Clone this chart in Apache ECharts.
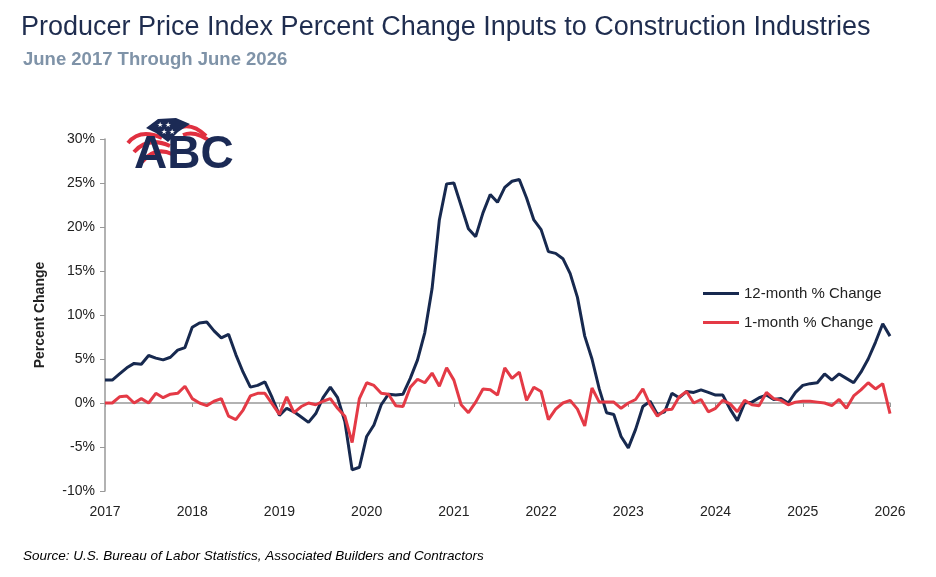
<!DOCTYPE html>
<html><head><meta charset="utf-8">
<script src="https://cdn.jsdelivr.net/npm/echarts@6/dist/echarts.min.js"></script>
<style>html,body{margin:0;padding:0;background:#fff}#c{width:936px;height:577px}</style>
</head><body><div id="c"></div>
<script>
const yearLabels = ['2017','2018','2019','2020','2021','2022','2023','2024','2025','2026'];
const twelveMonth = [2.6,2.6,3.3,4.0,4.5,4.4,5.4,5.1,4.9,5.2,6.0,6.3,
 8.6,9.1,9.2,8.2,7.4,7.8,5.5,3.5,1.8,2.0,2.4,0.6,
 -1.4,-0.6,-1.0,-1.6,-2.2,-1.2,0.6,1.8,0.6,-2.1,-7.6,-7.3,
 -3.8,-2.5,-0.2,1.0,0.9,1.0,2.8,4.9,8.0,13.0,20.8,24.9,
 25.0,22.4,19.8,18.9,21.6,23.7,22.8,24.5,25.2,25.4,23.3,20.8,
 19.7,17.2,17.0,16.4,14.7,12.0,7.6,5.0,1.6,-1.1,-1.3,-3.8,
 -5.1,-3.0,-0.4,0.2,-1.3,-1.0,1.1,0.6,1.3,1.2,1.5,1.2,
 0.9,0.9,-0.7,-2.0,0.0,0.1,0.6,0.9,0.4,0.5,0.0,1.2,
 2.0,2.2,2.3,3.3,2.6,3.3,2.8,2.3,3.5,5.0,6.9,9.0,7.6];
const oneMonth = [0.0,0.0,0.7,0.8,0.0,0.5,0.0,1.1,0.6,1.0,1.1,1.9,
 0.5,0.0,-0.3,0.2,0.5,-1.5,-1.9,-0.8,0.8,1.1,1.1,-0.1,
 -1.3,0.7,-1.1,-0.4,0.0,-0.2,0.2,0.5,-0.6,-1.5,-4.5,0.5,
 2.3,2.0,1.1,1.0,-0.3,-0.4,1.8,2.7,2.3,3.4,1.9,4.0,
 2.6,-0.2,-1.1,0.1,1.6,1.5,0.9,4.0,2.8,3.5,0.3,1.8,
 1.3,-1.9,-0.7,0.0,0.3,-0.7,-2.6,1.7,0.1,0.1,0.1,-0.6,
 0.0,0.4,1.6,-0.2,-1.5,-0.8,-0.7,0.7,1.3,0.0,0.4,-1.0,
 -0.6,0.3,-0.1,-1.0,0.3,-0.2,-0.3,1.2,0.5,0.3,-0.2,0.1,
 0.2,0.2,0.1,0.0,-0.3,0.4,-0.6,0.8,1.5,2.3,1.6,2.2,-1.2];
const categories = twelveMonth.map((_, i) => i % 12 === 0 ? yearLabels[i / 12] : '');
const yTicks = {min: -10, max: 30, interval: 5};

const chart = echarts.init(document.getElementById('c'));
const F = 'Liberation Sans, Arial, sans-serif';
const red = '#e03040', navy = '#1b2a55';
function stripe(x1,y1,cx,cy,x2,y2){return {type:'bezierCurve', shape:{x1,y1,cpx1:cx,cpy1:cy,x2,y2}, style:{stroke:red, lineWidth:4, fill:null}, z:10};}
chart.setOption({
  animation: false,
  textStyle: {fontFamily: F},
  grid: {left: 105, right: 46, top: 139, bottom: 86},
  title: [
    {text: 'Producer Price Index Percent Change Inputs to Construction Industries', left: 16, top: 9,
     textStyle: {fontSize: 27, fontWeight: 'normal', color: '#1f2d4f', fontFamily: F}},
    {text: 'June 2017 Through June 2026', left: 18, top: 45,
     textStyle: {fontSize: 18.5, fontWeight: 'bold', color: '#7f93a8', fontFamily: F}},
    {text: 'Source: U.S. Bureau of Labor Statistics, Associated Builders and Contractors', left: 18, top: 544,
     textStyle: {fontSize: 13.5, fontStyle: 'italic', fontWeight: 'normal', color: '#000', fontFamily: F}}
  ],
  legend: {orient: 'vertical', left: 698, top: 281, itemGap: 14, itemWidth: 36, itemHeight: 3,
    icon: 'rect', textStyle: {fontSize: 15, color: '#222'}},
  xAxis: [
    {type: 'category', data: categories, boundaryGap: false,
     axisLine: {show: false, onZero: false}, axisTick: {show: false},
     axisLabel: {interval: 0, fontSize: 14, color: '#222', margin: 14}},
    {type: 'category', data: categories, boundaryGap: false, position: 'bottom',
     axisLine: {show: true, onZero: true, onZeroAxisIndex: 0, lineStyle: {color: '#999', width: 1.5}},
     axisTick: {show: true, interval: 11, inside: false, length: 4, lineStyle: {color: '#999'}},
     axisLabel: {show: false}}
  ],
  yAxis: {type: 'value', min: yTicks.min, max: yTicks.max, interval: yTicks.interval,
    name: 'Percent Change', nameLocation: 'middle', nameGap: 58,
    nameTextStyle: {fontSize: 14, fontWeight: 'bold', color: '#222'},
    axisLine: {show: true, lineStyle: {color: '#999', width: 1.5}},
    axisTick: {show: true, length: 5, lineStyle: {color: '#999'}},
    splitLine: {show: false},
    axisLabel: {formatter: '{value}%', fontSize: 14, color: '#222', margin: 10}},
  graphic: [
    stripe(128,143, 140,128, 162,138),
    stripe(134,152, 148,136, 170,146),
    stripe(142,162, 155,146, 172,154),
    stripe(178,128, 192,122, 206,136),
    stripe(183,135, 196,130, 212,143),
    {type:'polygon', shape:{points:[[146,128],[158,119],[176,118],[190,124],[178,132],[168,142],[156,133]]}, style:{fill:navy}, z:11},
    {type:'text', left:157, top:122, style:{text:'★ ★', font:'7px sans-serif', fill:'#fff'}, z:12},
    {type:'text', left:161, top:129, style:{text:'★ ★', font:'7px sans-serif', fill:'#fff'}, z:12},
    {type: 'text', left: 134, top: 132, style: {text: 'ABC', font: 'bold 46px Liberation Sans', fill: navy}, z:13}
  ],
  series: [
    {name: '12-month % Change', type: 'line', data: twelveMonth, showSymbol: false, xAxisIndex: 0,
     lineStyle: {color: '#17294f', width: 3}, itemStyle: {color: '#17294f'}},
    {name: '1-month % Change', type: 'line', data: oneMonth, showSymbol: false, xAxisIndex: 0,
     lineStyle: {color: '#e43a46', width: 3}, itemStyle: {color: '#e43a46'}}
  ]
});
</script></body></html>
